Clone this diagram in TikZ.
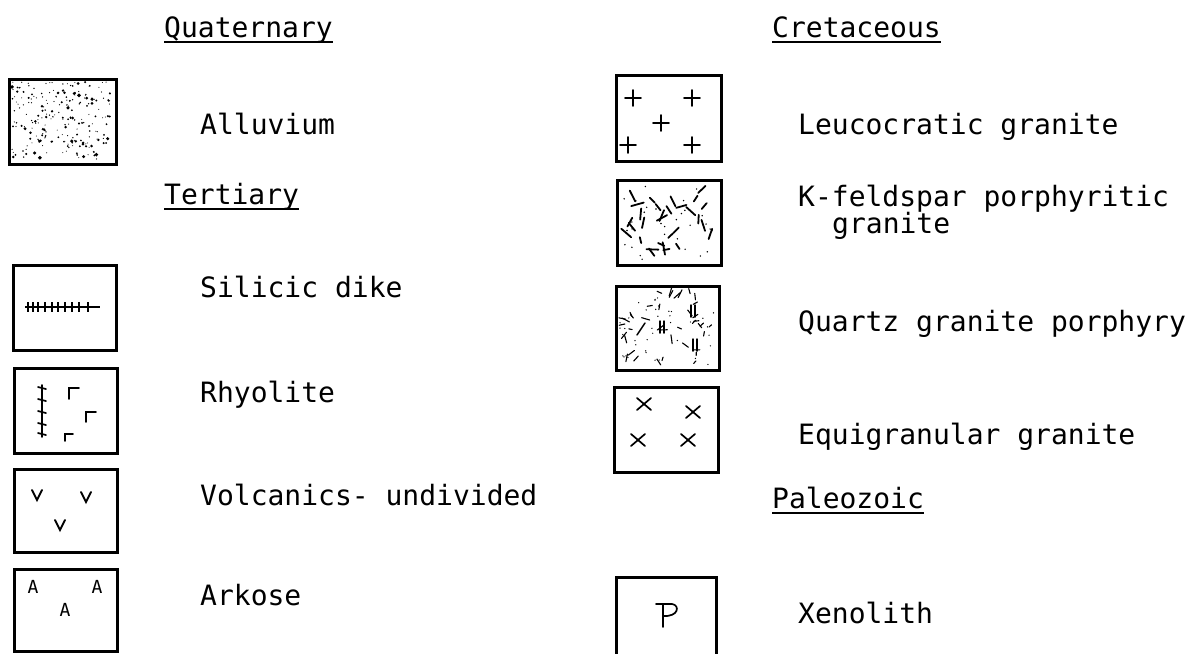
\documentclass[tikz,border=0pt]{standalone}
\usepackage{fontspec}
\setmonofont{DejaVu Sans Mono}
\usetikzlibrary{positioning,calc}

\begin{document}
\begin{tikzpicture}[x=1pt,y=-1pt,
  every node/.style={font=\ttfamily\fontsize{28}{29}\selectfont},
  legbox/.style={draw,line width=2.9pt,minimum width=103pt,minimum height=85pt,inner sep=0pt,anchor=north west},
  legtext/.style={anchor=base west,inner sep=0pt},
  eratext/.style={anchor=base west,inner sep=0pt},
  sym/.style={line width=1.7pt,line cap=round},
  fleck/.style={line width=1.8pt,line cap=round}
]
  \useasboundingbox (0,0) rectangle (1188,653);

  % headings
  \node[eratext] (quat) at (164,37) {Quaternary};
  \node[eratext] (tert) at (164,204) {Tertiary};
  \node[eratext] (cret) at (772,37) {Cretaceous};
  \node[eratext] (pale) at (772,508) {Paleozoic};
  \foreach \h in {quat,tert,cret,pale}
    \draw[line width=1.2pt] ([yshift=-5pt]\h.base west) -- ([yshift=-5pt]\h.base east);

  % left column
  \node[legbox,minimum width=107pt] (al) at (8,78) {};
  \node[legbox] (sd) at (12,264) {};
  \node[legbox] (rh) at (13,367) {};
  \node[legbox,minimum height=83pt] (vu) at (13,468) {};
  \node[legbox,minimum height=82pt] (ar) at (13,568) {};
  \node[legtext] (alt) at (200,134) {Alluvium};
  \node[legtext] (sdt) at (200,297) {Silicic dike};
  \node[legtext] (rht) at (200,402) {Rhyolite};
  \node[legtext] (vut) at (200,505) {Volcanics- undivided};
  \node[legtext] (art) at (200,605) {Arkose};

  % right column
  \node[legbox,minimum width=105pt,minimum height=86pt] (lg) at (615,74) {};
  \node[legbox,minimum width=104pt] (kf) at (616,179) {};
  \node[legbox,minimum height=84pt] (qp) at (615,285) {};
  \node[legbox,minimum width=104pt] (eg) at (613,386) {};
  \node[legbox,minimum width=100pt,minimum height=95pt] (xn) at (615,576) {};
  \node[legtext] (lgt) at (798,134) {Leucocratic granite};
  \node[legtext] (kft) at (798,206) {K-feldspar porphyritic};
  \node[legtext] (kft2) at (832,233) {granite};
  \node[legtext] (qpt) at (798,331) {Quartz granite porphyry};
  \node[legtext] (egt) at (798,444) {Equigranular granite};
  \node[legtext] (xnt) at (798,623) {Xenolith};

  % alluvium stipple
  \pgfmathsetseed{11}
  \foreach \i in {1,...,230}{
    \pgfmathsetmacro\dx{4+rnd*99}
    \pgfmathsetmacro\dy{4+rnd*77}
    \pgfmathsetmacro\rr{0.5+rnd*rnd*1.6}
    \fill ($(al.north west)+(\dx,\dy)$) circle (\rr pt);
  }

  % silicic dike
  \begin{scope}[shift={(sd.north west)}]
    \draw[line width=1.4pt] (13,43) -- (88,43);
    \foreach \t in {16,21,26,33,40,46,53,60,67,76}
      \draw[line width=1.6pt] (\t,38) -- (\t,48);
  \end{scope}

  % rhyolite
  \begin{scope}[shift={(rh.north west)}]
    \draw[sym] (29,18) -- (29,70);
    \foreach \t in {20,32,44,56,66}
      \draw[sym] (25,\t) -- (33,\t+2);
    \draw[sym] (56,32) -- (56,21) -- (66,21);
    \draw[sym] (73,55) -- (73,45) -- (83,45);
    \draw[sym] (52,74) -- (52,67) -- (60,67);
  \end{scope}

  % volcanics
  \begin{scope}[shift={(vu.north west)}]
    \foreach \p in {(24,27),(73,29),(47,57)}
      \draw[sym,line width=2pt] \p ++(-5,-5) -- ++(5,10) -- ++(5,-10);
  \end{scope}

  % arkose
  \begin{scope}[shift={(ar.north west)}]
    \foreach \p/\n in {(20,19)/a1,(84,19)/a2,(52,42)/a3}
      \node[font=\ttfamily\fontsize{18}{18}\selectfont,inner sep=0pt] (\n) at \p {A};
  \end{scope}

  % leucocratic granite
  \begin{scope}[shift={(lg.north west)}]
    \foreach \p in {(18,24),(77,24),(46,49),(13,71),(77,71)}
      \draw[sym] \p ++(-8,0) -- ++(16,0) \p ++(0,-8) -- ++(0,16);
  \end{scope}

  % k-feldspar porphyritic granite
  \pgfmathsetseed{5}
  \begin{scope}[shift={(kf.north west)}]
    \foreach \i in {1,...,30}{
      \pgfmathsetmacro\dx{9+rnd*86}
      \pgfmathsetmacro\dy{8+rnd*68}
      \pgfmathsetmacro\an{rnd*180}
      \pgfmathsetmacro\ln{3+rnd*3.5}
      \pgfmathsetmacro\ll{2*\ln}
      \pgfmathsetmacro\bn{\an+180}
      \draw[fleck] (\dx,\dy) ++(\an:\ln pt) -- ++(\bn:\ll pt);
    }
    \foreach \i in {1,...,30}{
      \pgfmathsetmacro\dx{4+rnd*95}
      \pgfmathsetmacro\dy{4+rnd*77}
      \fill (\dx,\dy) circle (0.8pt);
    }
  \end{scope}

  % quartz granite porphyry
  \pgfmathsetseed{23}
  \begin{scope}[shift={(qp.north west)}]
    \foreach \i in {1,...,40}{
      \pgfmathsetmacro\dx{6+rnd*91}
      \pgfmathsetmacro\dy{6+rnd*72}
      \pgfmathsetmacro\an{rnd*180}
      \pgfmathsetmacro\ln{1.5+rnd*3}
      \pgfmathsetmacro\ll{2*\ln}
      \pgfmathsetmacro\bn{\an+180}
      \draw[line width=1.1pt,line cap=round] (\dx,\dy) ++(\an:\ln pt) -- ++(\bn:\ll pt);
    }
    \foreach \i in {1,...,40}{
      \pgfmathsetmacro\dx{4+rnd*95}
      \pgfmathsetmacro\dy{4+rnd*76}
      \fill (\dx,\dy) circle (0.7pt);
    }
    \foreach \p in {(47,42),(78,26),(80,60)}
      \draw[line width=1.5pt,line cap=round] \p ++(-2,-6) -- ++(0,12) \p ++(2,-6) -- ++(0,12);
    \draw[line width=1.5pt,line cap=round] (22,50) -- (30,38);
  \end{scope}

  % equigranular granite
  \begin{scope}[shift={(eg.north west)}]
    \foreach \p in {(31,18),(80,26),(25,54),(75,54)}
      \draw[sym] \p ++(-7,-6) -- ++(14,12) \p ++(-7,6) -- ++(14,-12);
  \end{scope}

  % xenolith
  \begin{scope}[shift={(xn.north west)}]
    \draw[sym] (41,28) -- (57,28) .. controls (65,29) and (64,41) .. (48,40);
    \draw[sym] (48,28) -- (48,51);
  \end{scope}
\end{tikzpicture}
\end{document}
